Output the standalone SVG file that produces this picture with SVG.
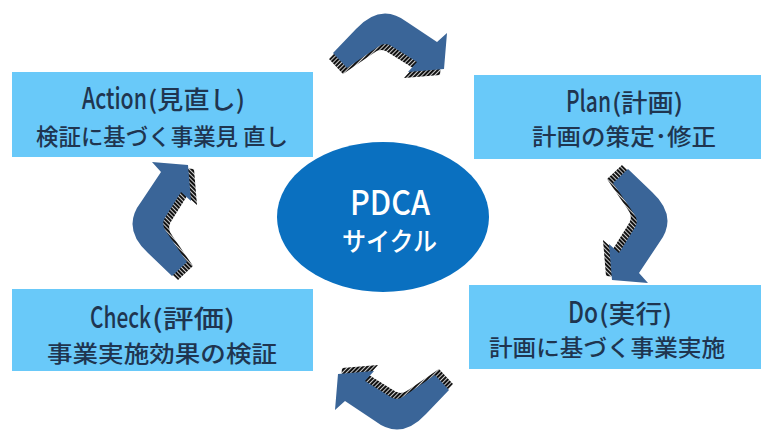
<svg xmlns="http://www.w3.org/2000/svg" width="765" height="435" viewBox="0 0 765 435">
<defs>
<style>
.box{fill:#69c9f9}
.t{font-family:"Noto Sans CJK JP","Noto Sans",sans-serif;fill:#1f3550;font-weight:500}
.l1{font-size:25px}
.lat{font-size:29px}
.l2{font-size:23px}
.w{font-family:"Noto Sans CJK JP","Noto Sans",sans-serif;fill:#ffffff;font-weight:500}
</style>
<pattern id="hatch" width="3" height="3" patternUnits="userSpaceOnUse" patternTransform="rotate(45)">
<rect width="3" height="3" fill="#111"/>
<rect width="1" height="3" fill="#cfcfcf"/>
</pattern>
<g id="arrow">
<path d="M-56,11 L-33,-13 Q-8,-40 18,-20 L48,0 L58,-9 L55,27 L19,30 L28,20 L4,5 Q-4,-1 -12,5.5 L-42,26 Z" fill="url(#hatch)" transform="translate(-4,6)"/>
<path d="M-56,11 L-33,-13 Q-8,-40 18,-20 L48,0 L58,-9 L55,27 L19,30 L28,20 L4,5 Q-4,-1 -12,5.5 L-42,26 Z" fill="#3a6598"/>
</g>
</defs>
<rect width="765" height="435" fill="#ffffff"/>
<g id="connectors">
<use href="#arrow" transform="translate(389,42)"/>
<use href="#arrow" transform="translate(639,225) rotate(90)"/>
<use href="#arrow" transform="translate(393,401) rotate(180)"/>
<use href="#arrow" transform="translate(161,220) rotate(-90)"/>
</g>
<g id="action">
<rect class="box" x="12" y="72" width="301" height="85"/>
<text class="t l1" x="82" y="109"><tspan class="lat" textLength="65" lengthAdjust="spacingAndGlyphs">Action</tspan><tspan x="148" textLength="97" lengthAdjust="spacingAndGlyphs">(見直し)</tspan></text>
<text class="t l2" x="36" y="145" textLength="252" lengthAdjust="spacingAndGlyphs">検証に基づく事業見 直し</text>
</g>
<g id="plan">
<rect class="box" x="474" y="75" width="287" height="84"/>
<text class="t l1" x="566" y="112"><tspan class="lat" textLength="45" lengthAdjust="spacingAndGlyphs">Plan</tspan><tspan x="612" textLength="71" lengthAdjust="spacingAndGlyphs">(計画)</tspan></text>
<text class="t l2" x="532" y="145" textLength="184" lengthAdjust="spacingAndGlyphs">計画の策定･修正</text>
</g>
<g id="check">
<rect class="box" x="12" y="289" width="301" height="82"/>
<text class="t l1" x="90" y="328"><tspan class="lat" textLength="61" lengthAdjust="spacingAndGlyphs">Check</tspan><tspan x="152" textLength="83" lengthAdjust="spacingAndGlyphs">(評価)</tspan></text>
<text class="t l2" x="47" y="362" textLength="230" lengthAdjust="spacingAndGlyphs">事業実施効果の検証</text>
</g>
<g id="do">
<rect class="box" x="469" y="285" width="292" height="84"/>
<text class="t l1" x="568" y="323"><tspan class="lat" textLength="30" lengthAdjust="spacingAndGlyphs">Do</tspan><tspan x="599" textLength="73" lengthAdjust="spacingAndGlyphs">(実行)</tspan></text>
<text class="t l2" x="489" y="356" textLength="236" lengthAdjust="spacingAndGlyphs">計画に基づく事業実施</text>
</g>
<g id="center">
<ellipse cx="383" cy="217" rx="106" ry="75" fill="#0a70c0"/>
<text class="w" x="350" y="215" font-size="34" textLength="80" lengthAdjust="spacingAndGlyphs">PDCA</text>
<text class="w" x="342" y="251" font-size="26" textLength="95" lengthAdjust="spacingAndGlyphs">サイクル</text>
</g>
</svg>
